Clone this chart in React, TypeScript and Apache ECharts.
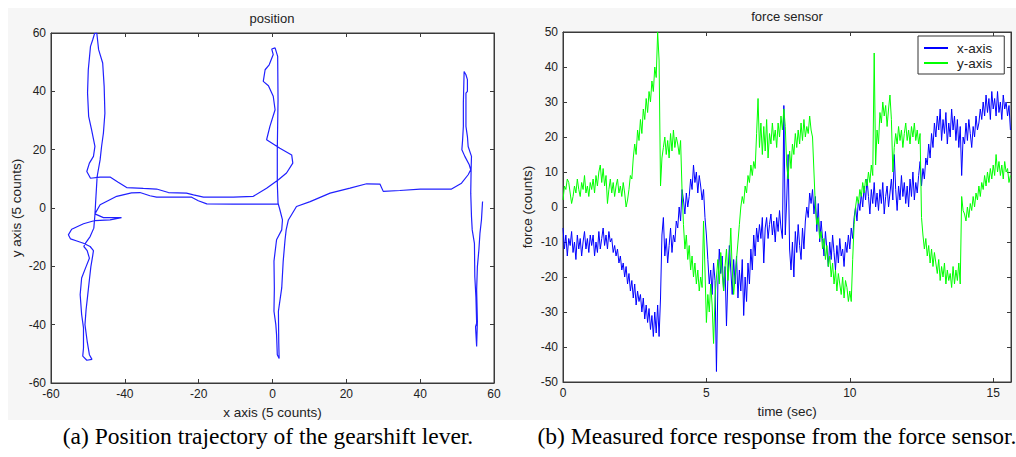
import React, { useEffect, useRef } from "react";
import * as echarts from "echarts";

// ---------- Left panel: gearshift lever trajectory (x, y in 5 counts) ----------
const POS_X = [
  1.6, -3.4, -10.6, -17.8, -20.1, -21.9, -25.1, -31.4, -33.2, -35.9, -38.2, -42.2, -46.7, -48.1,
  -45.8, -40.9, -44.0, -48.1, -51.2, -54.4, -55.3, -54.7, -53.0, -51.2, -49.4, -48.5, -48.7,
  -49.2, -49.6, -50.1, -50.5, -50.8, -50.2, -49.6, -48.9, -50.3, -51.4, -51.2, -51.2, -51.7, -52.1,
  -51.7, -50.5, -49.6, -50.2, -51.1, -50.7, -49.4, -48.4, -48.1,
  -47.9, -47.5, -46.7, -46.3, -45.8, -45.4, -45.6, -46.0, -47.1, -47.5, -47.6,
  -48.2, -48.7, -49.3, -49.9, -50.1, -49.8, -49.0, -48.1, -48.5, -49.6, -50.3, -49.3,
  -46.7, -44.0, -41.8, -39.5, -35.0, -31.4, -28.2, -23.3, -21.4, -18.7, -10.6, -5.2, -1.6, 1.6,
  3.8, 5.5, 5.2, 2.0, -1.6, -0.7, 0.7, 0.2, -1.1, -2.5, -2.0, -0.9, 0.2, -0.2, 0.7, 1.4,
  1.5, 1.3, 1.3, 1.5, 2.0, 2.7, 2.5, 1.1, 0.4, 0.5, 0.4, 0.9, 1.1, 1.3, 1.8,
  1.7, 1.6, 2.5, 2.9, 3.4, 3.7, 4.3,
  6.5, 10.2, 15.6, 21.0, 25.5, 29.1, 30.0, 34.5, 40.0, 48.5, 51.2, 53.0, 53.7,
  53.3, 52.1, 51.3, 51.5, 51.7, 51.7, 51.9, 51.9,
  52.4, 52.8, 52.8, 52.4, 52.4, 52.8, 53.0, 53.9, 53.8, 53.7, 53.9,
  54.1, 54.7, 54.8, 55.1, 55.3, 55.0, 55.3,
  55.5, 55.3, 55.5, 55.9, 56.2, 56.6, 56.9,
];
const POS_Y = [
  1.4, 1.3, 1.3, 1.4, 2.5, 3.7, 3.7, 3.7, 4.2, 5.3, 5.2, 4.0, 1.1, -2.0,
  -3.3, -3.3, -4.1, -4.3, -5.4, -7.3, -9.2, -10.6, -11.3, -12.1, -13.2, -14.6, -16.3,
  -20.1, -24.6, -30.4, -34.9, -40.0, -45.7, -50.3, -51.9, -52.2, -50.8, -48.0, -41.1, -36.5, -29.7,
  -24.0, -20.1, -17.2, -14.6, -13.2, -12.1, -9.8, -6.9, -2.3,
  2.2, 10.8, 16.5, 21.1, 25.7, 32.5, 41.7, 49.7, 54.3, 58.9, 60,
  59.8, 57.7, 55.4, 47.4, 39.4, 31.4, 26.8, 21.1, 17.7, 15.4, 12.5, 10.2,
  10.6, 10.6, 8.8, 7.0, 6.7, 6.5, 5.3, 5.1, 4.5, 3.7, 3.7, 4.0, 6.8, 9.7,
  12.0, 15.4, 18.2, 20.5, 23.4, 28.0, 33.7, 38.3, 41.9, 43.4, 47.4, 49.1, 52.6, 54.5, 54.9, 52.0,
  37.1, 20.0, 8.5, 1.7, -0.6, -4.1, -7.5, -10.9, -18.2, -27.4, -35.4, -40.0, -43.4, -50.3, -51.6,
  -46.4, -35.4, -27.4, -18.2, -10.9, -7.5, -4.1,
  0.5, 2.2, 5.1, 6.8, 8.3, 8.2, 5.7, 6.0, 6.5, 6.5, 8.5, 11.4, 13.1,
  14.8, 17.7, 20.0, 23.4, 28.0, 36.0, 46.3, 46.8,
  45.7, 44.0, 40.0, 39.4, 28.0, 24.5, 21.1, 17.7, 13.1, 5.1, -2.9,
  -7.5, -12.1, -23.5, -30.4, -39.5, -40.7, -47.5,
  -38.9, -28.1, -20.1, -14.4, -8.6, -4.1, 2.2,
];

// ---------- Right panel: force sensor (counts), one row per second, sample step DT ----------
const DT = 0.05;
const FORCE_X_ROWS = [
  [-6, -12, -8, -14, -9, -11, -7, -13, -10, -15, -8, -12, -9, -14, -10, -7, -12, -9, -13, -8],
  [-11, -8, -14, -10, -13, -7, -12, -9, -6, -11, -8, -12, -7, -10, -9, -13, -11, -14, -12, -16],
  [-14, -18, -16, -20, -17, -22, -19, -24, -21, -26, -22, -28, -24, -27, -25, -30, -26, -32, -28, -33],
  [-29, -35, -31, -37, -30, -36, -28, -37, -26, -8, -3, -14, -9, -16, -11, -6, -13, -8, -10, -4],
  [-6, 0, -4, 5, 2, -2, 4, 0, 3, 8, 5, 12, 7, 10, 4, 9, 6, 2, 5, -3],
  [-8, -15, -22, -18, -25, -16, -21, -47, -22, -12, -19, -14, -24, -17, -34, -20, -11, -18, -25, -15],
  [-22, -14, -26, -18, -24, -15, -31, -20, -27, -16, -22, -12, -18, -8, -14, -6, -10, -5, -9, -3],
  [-16, -6, -3, -9, -5, -2, -8, -4, -10, -3, -7, -1, -6, -9, 29, -8, 2, 15, -12, -18],
  [-10, -20, -7, -13, -5, -11, -15, -6, -12, -4, 0, -3, 4, 1, 5, -2, 3, -7, 1, -10],
  [-4, -9, -14, -7, -12, -17, -10, -15, -8, -13, -18, -11, -16, -9, -14, -12, -17, -10, -13, -8],
  [-12, -6, -9, -3, 0, -4, 2, -1, 4, 0, 6, 2, 8, 3, -2, 5, 1, 7, 0, 4],
  [-1, 5, 1, 7, -2, 3, 6, 0, 4, 8, 2, 15, 5, -1, 6, 2, 9, 3, 7, 1],
  [6, 0, 8, 3, 10, 2, 7, 4, 9, 13, 6, 11, 8, 14, 12, 18, 14, 21, 17, 24],
  [20, 26, 22, 28, 19, 25, 21, 27, 18, 24, 20, 28, 22, 26, 19, 25, 17, 23, 9, 20],
  [18, 24, 19, 25, 21, 17, 23, 20, 26, 22, 24, 28, 25, 30, 26, 32, 27, 31, 25, 33],
  [28, 31, 26, 33, 27, 30, 25, 32, 28, 30, 26, 29, 22],
];
const FORCE_Y_ROWS = [
  [2, 6, 5, 8, 7, 4, 1, 3, 6, 4, 8, 5, 3, 7, 5, 9, 4, 6, 3, 7],
  [5, 8, 4, 9, 6, 10, 12, 7, 11, 6, 9, 1, 5, 8, 4, 7, 3, 6, 8, 4],
  [6, 3, 7, 4, 0, 2, 5, 9, 8, 14, 18, 15, 22, 19, 25, 21, 28, 25, 31, 27],
  [33, 30, 36, 33, 40, 37, 50, 42, 6, 14, 17, 20, 15, 19, 14, 21, 16, 22, 17, 20],
  [18, 15, 19, 5, -5, -12, -8, -15, -11, -18, -14, -20, -16, -22, -18, -24, -20, -23, -4, -18],
  [-33, -25, -30, -22, -28, -39, -26, -20, -15, -22, -13, -19, -24, -17, -12, -21, -16, -6, -18, -25],
  [-20, -15, -10, -5, 0, 3, 1, 6, 4, 9, 7, 12, 9, 13, 11, 21, 31, 17, 24, 15],
  [23, 16, 25, 14, 21, 18, 24, 19, 22, 17, 24, 20, 26, 22, 28, 23, 12, 8, 16, 11],
  [18, 15, 21, 17, 22, 18, 24, 19, 25, 20, 23, 21, 26, 22, 20, 10, 0, -5, -3, -9],
  [-7, -12, -9, -15, -11, -17, -14, -20, -16, -22, -18, -24, -19, -22, -25, -20, -26, -21, -23, -27],
  [-24, -27, -15, -5, 0, 3, 1, 5, 3, 7, 4, 8, 6, 10, 7, 12, 9, 44, 12, 22],
  [18, 27, 24, 30, 26, 29, 23, 28, 32, 25, 10, 17, 21, 18, 23, 19, 22, 17, 21, 24],
  [19, 22, 18, 23, 20, 24, 19, 22, 18, 21, -3, -8, -12, -9, -14, -11, -16, -12, -17, -13],
  [-16, -19, -15, -21, -17, -20, -16, -22, -18, -21, -19, -23, -17, -22, -18, -21, -16, -22, 3, -1],
  [-2, -4, 0, -3, 1, -1, 3, 0, 4, 2, 6, 3, 7, 5, 9, 6, 10, 7, 11, 8],
  [12, 9, 15, 10, 13, 9, 12, 8, 13, 10, 11, 7, 9],
];

// axis ranges [min, max, step]
const POS_X_AXIS = [-60, 60, 20];
const POS_Y_AXIS = [-60, 60, 20];
const TIME_AXIS = [0, 15.62, 5];
const FORCE_AXIS = [-50, 50, 10];

const LEGEND = ["x-axis", "y-axis"];
const TITLES = ["position", "force sensor"];
const AXIS_NAMES = ["x axis (5 counts)", "y axis (5 counts)", "time (sec)", "force (counts)"];
const CAPTIONS = [
  "(a) Position trajectory of the gearshift lever.",
  "(b) Measured force response from the force sensor.",
];

const SANS = "'Liberation Sans', Arial, sans-serif";
const SERIF = "'Liberation Serif', 'Times New Roman', serif";
const AX = "#3a3a3a";
const LBL = "#222222";

function axisPair(gridIndex: number, range: number[], dim: "x" | "y", name: string, nameGap: number) {
  const [min, max, step] = range;
  const base = {
    gridIndex,
    type: "value",
    min,
    max,
    interval: step,
    splitLine: { show: false },
    axisLine: { show: true, onZero: false, lineStyle: { color: AX, width: 1 } },
    axisTick: { show: true, inside: true, length: 4, lineStyle: { color: AX } },
  };
  const main = {
    ...base,
    position: dim === "x" ? "bottom" : "left",
    name,
    nameLocation: "middle",
    nameGap,
    nameTextStyle: { fontFamily: SANS, fontSize: 13.5, color: LBL },
    axisLabel: {
      show: true,
      fontFamily: SANS,
      fontSize: 12,
      color: LBL,
      margin: 5,
      showMaxLabel: max % step === 0,
      formatter: (v: number) => (Math.abs(v / step - Math.round(v / step)) < 1e-6 ? String(v) : ""),
    },
  };
  const mirror = {
    ...base,
    position: dim === "x" ? "top" : "right",
    axisLabel: { show: false },
  };
  return [main, mirror];
}

export default function App() {
  const ref = useRef<HTMLDivElement>(null);

  useEffect(() => {
    document.body.style.margin = "0";
    if (!ref.current) return;
    const chart = echarts.init(ref.current, undefined, { renderer: "svg" });

    const posData = POS_X.map((x, i) => [x, POS_Y[i]]);
    const fx = FORCE_X_ROWS.flat().map((v, i) => [i * DT, v]);
    const fy = FORCE_Y_ROWS.flat().map((v, i) => [i * DT, v]);

    const [lx, lx2] = axisPair(0, POS_X_AXIS, "x", AXIS_NAMES[0], 22);
    const [ly, ly2] = axisPair(0, POS_Y_AXIS, "y", AXIS_NAMES[1], 28);
    const [rx, rx2] = axisPair(1, TIME_AXIS, "x", AXIS_NAMES[2], 22);
    const [ry, ry2] = axisPair(1, FORCE_AXIS, "y", AXIS_NAMES[3], 29);

    chart.setOption({
      animation: false,
      backgroundColor: "#ffffff",
      textStyle: { fontFamily: SANS },
      grid: [
        { left: 51, top: 33, width: 443, height: 350, show: true, backgroundColor: "#ffffff", borderColor: AX, borderWidth: 1 },
        { left: 563, top: 32, width: 448, height: 350, show: true, backgroundColor: "#ffffff", borderColor: AX, borderWidth: 1 },
      ],
      xAxis: [lx, lx2, rx, rx2],
      yAxis: [ly, ly2, ry, ry2],
      legend: {
        data: LEGEND,
        orient: "vertical",
        left: 918,
        top: 36,
        padding: [5, 12, 4, 6],
        itemWidth: 24,
        itemHeight: 2,
        itemGap: 1,
        icon: "rect",
        borderColor: "#333333",
        borderWidth: 1,
        backgroundColor: "#ffffff",
        borderRadius: 0,
        textStyle: { fontFamily: SANS, fontSize: 13.5, lineHeight: 14, color: LBL, padding: [0, 0, 0, 4] },
      },
      series: [
        {
          type: "line",
          xAxisIndex: 0,
          yAxisIndex: 0,
          data: posData,
          showSymbol: false,
          symbol: "none",
          smooth: false,
          color: "#2020ff",
          lineStyle: { width: 1.2, color: "#2020ff" },
        },
        {
          name: LEGEND[0],
          type: "line",
          xAxisIndex: 2,
          yAxisIndex: 2,
          data: fx,
          showSymbol: false,
          symbol: "none",
          color: "#0000ff",
          lineStyle: { width: 1, color: "#0000ff" },
        },
        {
          name: LEGEND[1],
          type: "line",
          xAxisIndex: 2,
          yAxisIndex: 2,
          data: fy,
          showSymbol: false,
          symbol: "none",
          color: "#00ff00",
          lineStyle: { width: 1, color: "#00ff00" },
        },
      ],
      graphic: [
        {
          type: "rect",
          z: -100,
          silent: true,
          shape: { x: 8, y: 8, width: 1008, height: 412 },
          style: { fill: "#f6f6f6" },
        },
        {
          type: "text",
          x: 272,
          y: 18,
          style: { text: TITLES[0], fontFamily: SANS, fontSize: 13, fill: LBL, align: "center", verticalAlign: "middle" },
        },
        {
          type: "text",
          x: 787,
          y: 16,
          style: { text: TITLES[1], fontFamily: SANS, fontSize: 13, fill: LBL, align: "center", verticalAlign: "middle" },
        },
        {
          type: "text",
          x: 268,
          y: 436,
          style: { text: CAPTIONS[0], fontFamily: SERIF, fontSize: 23.5, fill: "#000", align: "center", verticalAlign: "middle" },
        },
        {
          type: "text",
          x: 777,
          y: 436,
          style: { text: CAPTIONS[1], fontFamily: SERIF, fontSize: 23.5, fill: "#000", align: "center", verticalAlign: "middle" },
        },
      ],
    });

    return () => chart.dispose();
  }, []);

  return <div ref={ref} style={{ width: 1016, height: 457 }} />;
}
